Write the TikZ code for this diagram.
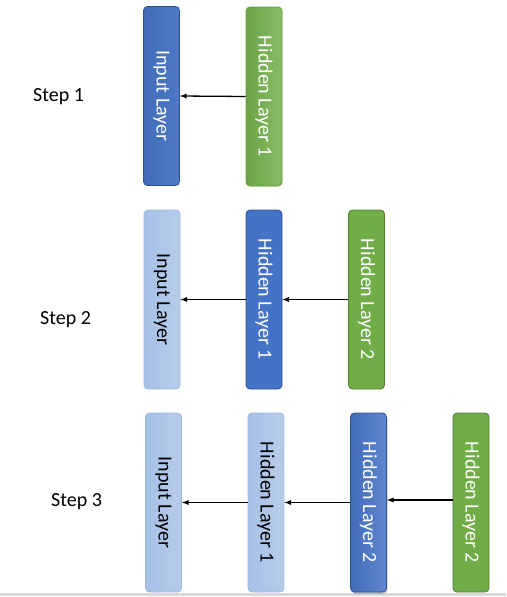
\documentclass[tikz,border=0pt]{standalone}
\usepackage{fontspec}
\setmainfont{Carlito}
\usepackage{graphicx}
\usetikzlibrary{arrows,shadows}
\definecolor{LBlue}{HTML}{4472C4}
\definecolor{LBlueDark}{HTML}{2F528F}
\definecolor{LGreen}{HTML}{70AD47}
\definecolor{LGreenDark}{HTML}{507E32}
\definecolor{LPale}{HTML}{A6C0E6}
\definecolor{LPaleDark}{HTML}{9DBAE2}
\tikzset{
    layer/.style = {rectangle, rounded corners=4pt, line width=0.8pt,
        minimum width=36pt, minimum height=179pt, inner sep=0pt,
        font=\fontsize{20}{24}\selectfont},
    bluelayer/.style = {layer, draw=LBlueDark, fill=LBlue, text=white},
    greenlayer/.style = {layer, draw=LGreenDark, fill=LGreen, text=white},
    palelayer/.style = {layer, draw=LPaleDark, left color=LPale, right color=LPale!80!white, text=black},
    steplabel/.style = {anchor=west, inner sep=0pt, font=\fontsize{20}{24}\selectfont},
    arrow/.style = {draw, -latex, line width=1.3pt}
}
\newcommand{\vtext}[1]{\rotatebox{-90}{#1}}

\begin{document}
\begin{tikzpicture}[x=1pt,y=-1pt]
    \useasboundingbox (0,0) rectangle (506,597);
    \draw[line width=2.5pt, black!15] (0,594.5) -- (506,594.5);
    % step 1
    \node[steplabel] (s1) at (33,97) {Step 1};
    \node[bluelayer, left color=LBlue!95!black, right color=LBlue!95!white] (in1) at (161.5,96) {\vtext{Input Layer}};
    \node[greenlayer, draw=LGreen!90!black, left color=LGreen!95!black, right color=LGreen!82!white] (h11) at (264,96.5) {\vtext{Hidden Layer 1}};
    \draw[arrow] (h11.west) -- (in1.east);
    % step 2
    \node[steplabel] (s2) at (40,320) {Step 2};
    \node[palelayer] (in2) at (162,299.5) {\vtext{Input Layer}};
    \node[bluelayer] (h21) at (264,299.5) {\vtext{Hidden Layer 1}};
    \node[greenlayer] (h22) at (366.5,299.5) {\vtext{Hidden Layer 2}};
    \draw[arrow] (h21.west) -- (in2.east);
    \draw[arrow] (h22.west) -- (h21.east);
    % step 3
    \node[steplabel] (s3) at (51,502) {Step 3};
    \node[palelayer] (in3) at (163.5,502.5) {\vtext{Input Layer}};
    \node[palelayer] (h31) at (266,502.5) {\vtext{Hidden Layer 1}};
    \node[bluelayer, left color=LBlue!95!black, right color=LBlue!85!white, drop shadow={shadow xshift=1pt, shadow yshift=-2pt, opacity=0.4}] (h32) at (368.5,502.5) {\vtext{Hidden Layer 2}};
    \node[greenlayer] (h33) at (471,502.5) {\vtext{Hidden Layer 2}};
    \draw[arrow] (h31.west) -- (in3.east);
    \draw[arrow] (h32.west) -- (h31.east);
    \draw[arrow] ([yshift=2.5pt]h33.west) -- ([yshift=2.5pt]h32.east);
\end{tikzpicture}
\end{document}
